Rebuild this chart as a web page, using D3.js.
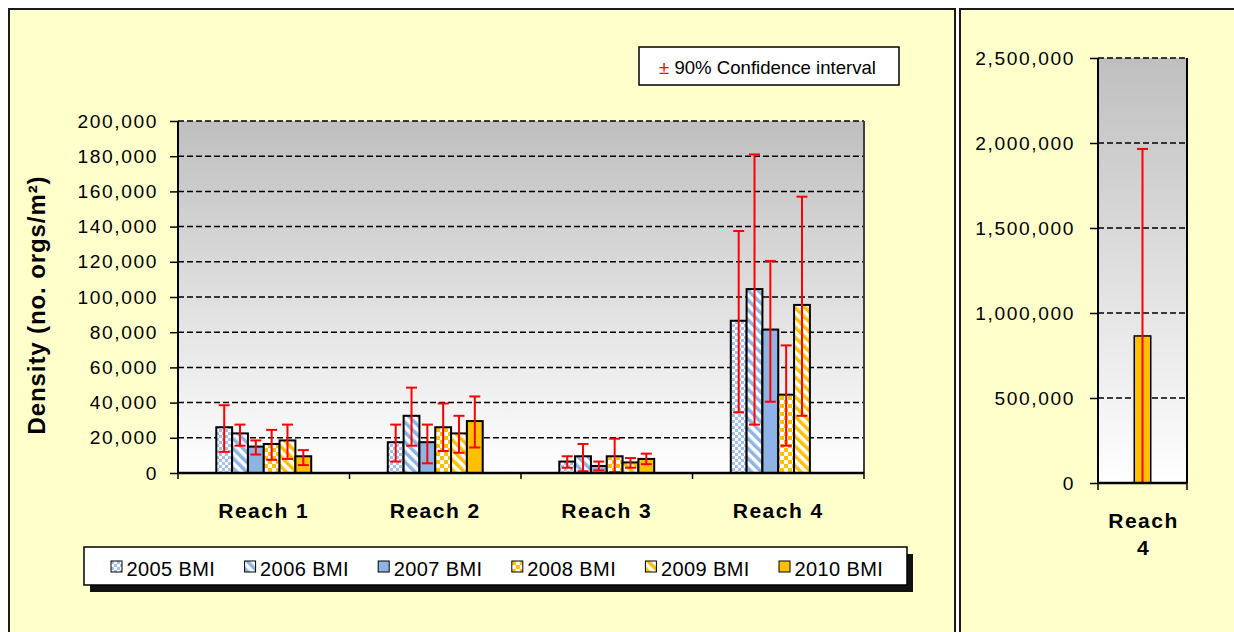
<!DOCTYPE html>
<html>
<head>
<meta charset="utf-8">
<script src="https://cdn.jsdelivr.net/npm/d3@7"></script>
<style>
  body { margin: 0; background: #ffffff; }
  svg { display: block; }
</style>
</head>
<body>
<svg id="chart" width="1234" height="632"></svg>
<script>
// ---- Data: BMI density (no. orgs/m²) by reach and survey year ----
const categories = ["Reach 1", "Reach 2", "Reach 3", "Reach 4"];
const seriesNames = ["2005 BMI", "2006 BMI", "2007 BMI", "2008 BMI", "2009 BMI", "2010 BMI"];

const density2005 = [26000, 17500, 6500, 86500];
const density2006 = [22500, 32500, 9500, 104500];
const density2007 = [15000, 17500, 4000, 81500];
const density2008 = [16500, 26000, 9500, 44500];
const density2009 = [18500, 22500, 6000, 95500];
const density2010 = [9500, 29500, 8000, null];   // Reach 4 2010 shown in the inset panel

// 90% confidence interval bounds
const ciLow2005 = [12000, 6500, 3000, 34500];
const ciHigh2005 = [38500, 27500, 9500, 137500];
const ciLow2006 = [15500, 15500, 1000, 27500];
const ciHigh2006 = [27500, 48500, 16500, 181000];
const ciLow2007 = [10500, 5500, 1500, 40500];
const ciHigh2007 = [18500, 27500, 6500, 120500];
const ciLow2008 = [7500, 12500, 500, 15500];
const ciHigh2008 = [24500, 39500, 19500, 72500];
const ciLow2009 = [8000, 11500, 3000, 32500];
const ciHigh2009 = [27500, 32500, 8500, 157000];
const ciLow2010 = [4500, 14500, 5000, null];
const ciHigh2010 = [13000, 43500, 11000, null];

const mainTicks = [0, 20000, 40000, 60000, 80000, 100000, 120000, 140000, 160000, 180000, 200000];

// Inset: Reach 4, 2010 survey
const insetCategories = ["Reach 4"];
const insetDensity = [865000];
const insetCiLow = [-235000];
const insetCiHigh = [1965000];
const insetTicks = [0, 500000, 1000000, 1500000, 2000000, 2500000];

const yAxisTitle = "Density (no. orgs/m²)";
const ciLegendLabel = " 90% Confidence interval";

// ---- Setup ----
const FONT = "'Liberation Sans', Arial, sans-serif";
const svg = d3.select("#chart");
const defs = svg.append("defs");

const bg = defs.append("linearGradient").attr("id", "plotBg")
  .attr("x1", 0).attr("y1", 0).attr("x2", 0).attr("y2", 1);
bg.append("stop").attr("offset", "0%").attr("stop-color", "#bfbfbf");
bg.append("stop").attr("offset", "100%").attr("stop-color", "#ffffff");

const BLUE = "#8eb4e3", GOLD = "#ffc000";

function checker(id, color, size) {
  const p = defs.append("pattern").attr("id", id)
    .attr("patternUnits", "userSpaceOnUse")
    .attr("width", size * 2).attr("height", size * 2);
  p.append("rect").attr("width", size * 2).attr("height", size * 2).attr("fill", "#ffffff");
  p.append("rect").attr("width", size).attr("height", size).attr("fill", color);
  p.append("rect").attr("x", size).attr("y", size).attr("width", size).attr("height", size).attr("fill", color);
}
function stripes(id, color, period, w) {
  const p = defs.append("pattern").attr("id", id)
    .attr("patternUnits", "userSpaceOnUse")
    .attr("width", period).attr("height", period)
    .attr("patternTransform", "rotate(-45)");
  p.append("rect").attr("width", period).attr("height", period).attr("fill", "#ffffff");
  p.append("rect").attr("width", w).attr("height", period).attr("fill", color);
}
checker("chkBlue", "#a3c2ea", 3);
stripes("strBlue", BLUE, 7, 3.5);
checker("chkGold", GOLD, 4);
stripes("strGold", GOLD, 7, 3.5);

const seriesFill = ["url(#chkBlue)", "url(#strBlue)", BLUE, "url(#chkGold)", "url(#strGold)", GOLD];
const densityBySeries = [density2005, density2006, density2007, density2008, density2009, density2010];
const lowBySeries = [ciLow2005, ciLow2006, ciLow2007, ciLow2008, ciLow2009, ciLow2010];
const highBySeries = [ciHigh2005, ciHigh2006, ciHigh2007, ciHigh2008, ciHigh2009, ciHigh2010];

// ---- Panel frames ----
svg.append("rect").attr("x", 9).attr("y", 9).attr("width", 946).attr("height", 640)
  .attr("fill", "#ffffcc").attr("stroke", "#1a1a1a").attr("stroke-width", 2);
svg.append("rect").attr("x", 960).attr("y", 9).attr("width", 300).attr("height", 640)
  .attr("fill", "#ffffcc").attr("stroke", "#1a1a1a").attr("stroke-width", 2);

function styleAxis(g, size, spacing) {
  g.select(".domain").remove();
  g.selectAll(".tick line").attr("stroke", "#000").attr("stroke-width", 1.5);
  g.selectAll(".tick text")
    .attr("fill", "#000")
    .style("font-family", FONT)
    .style("font-size", size + "px")
    .style("letter-spacing", spacing + "px");
}

function errorBars(g, rows, xc, yScale, yMin) {
  const eb = g.append("g").attr("stroke", "#ff0000").attr("stroke-width", 2);
  rows.forEach(r => {
    const cx = xc(r);
    const lo = Math.max(r.lo, yMin);
    eb.append("line").attr("x1", cx).attr("x2", cx).attr("y1", yScale(r.hi)).attr("y2", yScale(lo));
    eb.append("line").attr("x1", cx - 5.5).attr("x2", cx + 5.5).attr("y1", yScale(r.hi)).attr("y2", yScale(r.hi));
    if (r.lo >= yMin) {
      eb.append("line").attr("x1", cx - 5.5).attr("x2", cx + 5.5).attr("y1", yScale(r.lo)).attr("y2", yScale(r.lo));
    }
  });
}

// ---- Main panel ----
const M = { left: 178, right: 864, top: 121, bottom: 473 };
const x0 = d3.scaleBand().domain(categories).range([M.left, M.right]);
const x1 = d3.scaleBand().domain(seriesNames).range([0, x0.bandwidth()]).paddingOuter(2.42);
const y = d3.scaleLinear().domain([0, 200000]).range([M.bottom, M.top]);

svg.append("rect").attr("x", M.left).attr("y", M.top)
  .attr("width", M.right - M.left).attr("height", M.bottom - M.top)
  .attr("fill", "url(#plotBg)");

svg.append("g").selectAll("line")
  .data(mainTicks.filter(d => d > 0))
  .join("line")
  .attr("x1", M.left).attr("x2", M.right)
  .attr("y1", d => y(d)).attr("y2", d => y(d))
  .attr("stroke", "#000").attr("stroke-width", 1.5).attr("stroke-dasharray", "6,3");

const rows = [];
categories.forEach((c, ci) => {
  seriesNames.forEach((s, si) => {
    const v = densityBySeries[si][ci];
    if (v != null) rows.push({ cat: c, series: s, si, value: v, lo: lowBySeries[si][ci], hi: highBySeries[si][ci] });
  });
});

svg.append("g").selectAll("rect")
  .data(rows)
  .join("rect")
  .attr("x", d => x0(d.cat) + x1(d.series))
  .attr("y", d => y(d.value))
  .attr("width", x1.bandwidth())
  .attr("height", d => y(0) - y(d.value))
  .attr("fill", d => seriesFill[d.si])
  .attr("stroke", "#000").attr("stroke-width", 2);

errorBars(svg, rows, d => x0(d.cat) + x1(d.series) + x1.bandwidth() / 2, y, 0);

// plot border on the right
svg.append("line").attr("x1", M.right).attr("x2", M.right).attr("y1", M.top).attr("y2", M.bottom)
  .attr("stroke", "#404040").attr("stroke-width", 2);

// y axis
const yAxisG = svg.append("g").attr("transform", `translate(${M.left},0)`)
  .call(d3.axisLeft(y).tickValues(mainTicks).tickFormat(d3.format(",")).tickSize(8).tickSizeOuter(0).tickPadding(12));
styleAxis(yAxisG, 19.2, 1.6);
svg.append("line").attr("x1", M.left).attr("x2", M.left).attr("y1", M.top).attr("y2", M.bottom)
  .attr("stroke", "#000").attr("stroke-width", 2);

// x axis
svg.append("line").attr("x1", M.left).attr("x2", M.right).attr("y1", M.bottom).attr("y2", M.bottom)
  .attr("stroke", "#000").attr("stroke-width", 2.5);
svg.append("g").selectAll("line")
  .data(categories.map(c => x0(c)).concat([M.right]))
  .join("line")
  .attr("x1", d => d).attr("x2", d => d)
  .attr("y1", M.bottom).attr("y2", M.bottom + 6)
  .attr("stroke", "#000").attr("stroke-width", 1.5);
svg.append("g").selectAll("text")
  .data(categories)
  .join("text")
  .attr("x", d => x0(d) + x0.bandwidth() / 2)
  .attr("y", 518)
  .attr("text-anchor", "middle")
  .style("font-family", FONT).style("font-size", "21px").style("font-weight", "bold")
  .style("letter-spacing", "1.5px")
  .text(d => d);

// y axis title
svg.append("text")
  .attr("transform", `translate(45,${(M.top + M.bottom) / 2 + 8}) rotate(-90)`)
  .attr("text-anchor", "middle")
  .style("font-family", FONT).style("font-size", "24px").style("font-weight", "bold")
  .style("letter-spacing", "0.9px")
  .text(yAxisTitle);

// confidence interval key
svg.append("rect").attr("x", 639).attr("y", 47).attr("width", 260).attr("height", 38)
  .attr("fill", "#ffffff").attr("stroke", "#000").attr("stroke-width", 1.5);
const ciText = svg.append("text").attr("x", 659).attr("y", 74)
  .style("font-family", FONT).style("font-size", "18.6px");
ciText.append("tspan").attr("fill", "#ff0000").text("±");
ciText.append("tspan").attr("fill", "#000").text(ciLegendLabel);

// series legend
svg.append("rect").attr("x", 90).attr("y", 554).attr("width", 823).attr("height", 38).attr("fill", "#111");
svg.append("rect").attr("x", 84).attr("y", 547).attr("width", 823).attr("height", 38)
  .attr("fill", "#ffffff").attr("stroke", "#000").attr("stroke-width", 1.5);
const legX = d3.scaleLinear().domain([0, seriesNames.length - 1]).range([111, 779]);
const legItems = svg.append("g").selectAll("g")
  .data(seriesNames)
  .join("g")
  .attr("transform", (d, i) => `translate(${legX(i)},561)`);
legItems.append("rect").attr("width", 11).attr("height", 11)
  .attr("fill", (d, i) => seriesFill[i]).attr("stroke", "#000").attr("stroke-width", 1);
legItems.append("text").attr("x", 15.5).attr("y", 14.5)
  .style("font-family", FONT).style("font-size", "20px").style("letter-spacing", "0.4px")
  .text(d => d);

// ---- Inset panel: Reach 4, 2010 ----
const R = { left: 1098, right: 1187, top: 58, bottom: 483 };
const xi = d3.scaleBand().domain(insetCategories).range([R.left, R.right]).paddingOuter(2.2);
const yi = d3.scaleLinear().domain([0, 2500000]).range([R.bottom, R.top]);

svg.append("rect").attr("x", R.left).attr("y", R.top)
  .attr("width", R.right - R.left).attr("height", R.bottom - R.top)
  .attr("fill", "url(#plotBg)");
svg.append("g").selectAll("line")
  .data(insetTicks.filter(d => d > 0))
  .join("line")
  .attr("x1", R.left).attr("x2", R.right)
  .attr("y1", d => yi(d)).attr("y2", d => yi(d))
  .attr("stroke", "#000").attr("stroke-width", 1.5).attr("stroke-dasharray", "6,3");

const insetRows = insetCategories.map((c, i) => ({ cat: c, value: insetDensity[i], lo: insetCiLow[i], hi: insetCiHigh[i] }));
svg.append("g").selectAll("rect")
  .data(insetRows)
  .join("rect")
  .attr("x", d => xi(d.cat))
  .attr("y", d => yi(d.value))
  .attr("width", xi.bandwidth())
  .attr("height", d => yi(0) - yi(d.value))
  .attr("fill", GOLD).attr("stroke", "#000").attr("stroke-width", 1.5);
errorBars(svg, insetRows, d => xi(d.cat) + xi.bandwidth() / 2, yi, 0);

svg.append("line").attr("x1", R.right).attr("x2", R.right).attr("y1", R.top).attr("y2", R.bottom)
  .attr("stroke", "#000").attr("stroke-width", 2);
const yiAxisG = svg.append("g").attr("transform", `translate(${R.left},0)`)
  .call(d3.axisLeft(yi).tickValues(insetTicks).tickFormat(d3.format(",")).tickSize(8).tickSizeOuter(0).tickPadding(15));
styleAxis(yiAxisG, 19.2, 1.6);
svg.append("line").attr("x1", R.left).attr("x2", R.left).attr("y1", R.top).attr("y2", R.bottom)
  .attr("stroke", "#000").attr("stroke-width", 2);
svg.append("line").attr("x1", R.left).attr("x2", R.right).attr("y1", R.bottom).attr("y2", R.bottom)
  .attr("stroke", "#000").attr("stroke-width", 2.5);
svg.append("g").selectAll("line")
  .data([R.left, R.right])
  .join("line")
  .attr("x1", d => d).attr("x2", d => d)
  .attr("y1", R.bottom).attr("y2", R.bottom + 7)
  .attr("stroke", "#000").attr("stroke-width", 1.5);

// wrapped category label
const insetLabel = svg.append("text")
  .attr("text-anchor", "middle")
  .style("font-family", FONT).style("font-size", "21px").style("font-weight", "bold")
  .style("letter-spacing", "1.5px");
insetCategories[0].split(" ").forEach((w, i) => {
  insetLabel.append("tspan").attr("x", xi(insetCategories[0]) + xi.bandwidth() / 2 + 1).attr("y", 528 + i * 27).text(w);
});
</script>
</body>
</html>
